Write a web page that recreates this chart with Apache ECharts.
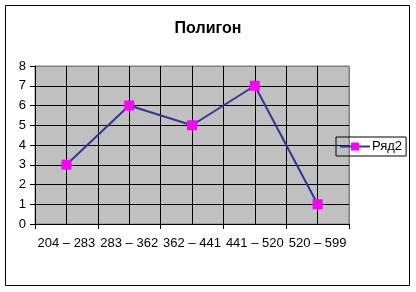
<!DOCTYPE html>
<html><head><meta charset="utf-8">
<script src="https://cdn.jsdelivr.net/npm/echarts@6/dist/echarts.min.js"></script>
<style>html,body{margin:0;padding:0;background:#fff}#c{width:416px;height:292px}</style>
</head><body><div id="c"></div>
<script>
const categories = ['204 – 283', '283 – 362', '362 – 441', '441 – 520', '520 – 599'];
const seriesName = 'Ряд2';
const values = [3, 6, 5, 7, 1];
const yTicks = { min: 0, max: 8, interval: 1 };
const titleText = 'Полигон';

const font = 'Arial, "Liberation Sans", sans-serif';
const chart = echarts.init(document.getElementById('c'), null, { renderer: 'canvas' });
const ySplitColors = [];
for (let i = yTicks.min; i < yTicks.max; i++) ySplitColors.push('#000');
ySplitColors.push('#808080');
const halfCount = categories.length * 2;
const xSplitColors = [];
for (let i = 0; i < halfCount; i++) xSplitColors.push('#000');
xSplitColors.push('#808080');

chart.setOption({
  animation: false,
  title: { text: titleText, left: 'center', top: 16, textStyle: { fontFamily: font, fontSize: 16, fontWeight: 'bold', color: '#000' } },
  graphic: [{ type: 'rect', shape: { x: 5.5, y: 5.5, width: 404, height: 280 }, style: { fill: 'none', stroke: '#000', lineWidth: 1 }, z: 100 }],
  legend: {
    data: [seriesName], left: 336, top: 137, orient: 'vertical',
    borderColor: '#000', borderWidth: 1, padding: [3, 4, 3, 3], itemWidth: 30, itemHeight: 10, itemGap: 0,
    textStyle: { fontFamily: font, fontSize: 13, color: '#000', padding: [0, 0, 0, -3] }
  },
  grid: { left: 35, right: 67, top: 66, bottom: 68, show: true, backgroundColor: '#C0C0C0', borderColor: '#808080', borderWidth: 1 },
  xAxis: [
    {
      type: 'category', data: categories, boundaryGap: true,
      axisLine: { lineStyle: { color: '#000', width: 1 } },
      axisTick: { show: true, length: 5, lineStyle: { color: '#000' } },
      axisLabel: { fontFamily: font, fontSize: 13, color: '#000', margin: 13, interval: 0 },
      splitLine: { show: false }
    },
    {
      type: 'value', min: 0, max: halfCount, interval: 1, show: true, position: 'bottom',
      axisLine: { show: false }, axisTick: { show: false }, axisLabel: { show: false },
      splitLine: { show: true, lineStyle: { color: xSplitColors, width: 1 } }
    }
  ],
  yAxis: {
    type: 'value', min: yTicks.min, max: yTicks.max, interval: yTicks.interval,
    axisLine: { show: true, lineStyle: { color: '#000', width: 1 } },
    axisTick: { show: true, length: 5, lineStyle: { color: '#000' } },
    axisLabel: { fontFamily: font, fontSize: 13, color: '#000', margin: 9 },
    splitLine: { show: true, lineStyle: { color: ySplitColors, width: 1 } }
  },
  series: [{
    name: seriesName, type: 'line', data: values, xAxisIndex: 0,
    symbol: 'rect', symbolSize: 10,
    lineStyle: { color: '#333399', width: 2 },
    itemStyle: { color: '#FF00FF', borderWidth: 0 },
    z: 10
  }]
});
</script></body></html>
